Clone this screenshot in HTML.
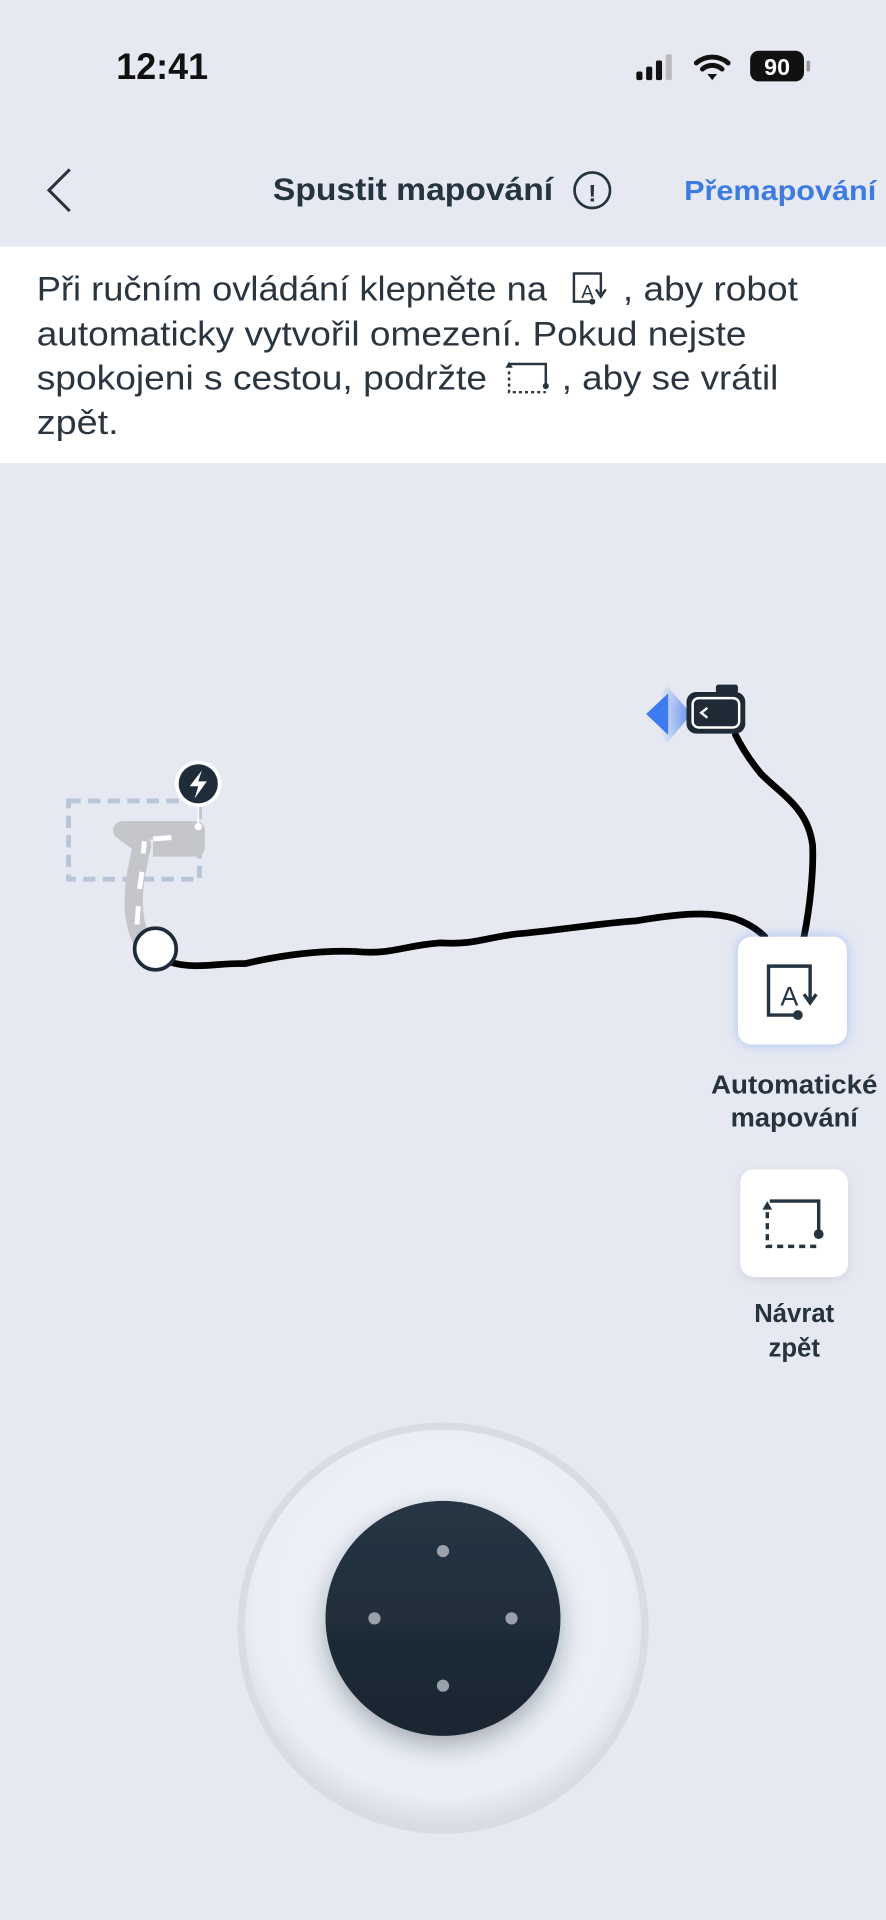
<!DOCTYPE html>
<html><head><meta charset="utf-8"><style>
html,body{margin:0;padding:0;background:#e6e9f1;}
svg{display:block}
text{font-family:"Liberation Sans",sans-serif}
</style></head><body>
<svg width="886" height="1920" viewBox="0 0 724 1568" xmlns="http://www.w3.org/2000/svg">
<defs>
<radialGradient id="joy" cx="50%" cy="45%" r="55%"><stop offset="0" stop-color="#f3f5fa"/><stop offset="0.85" stop-color="#eaeef5"/><stop offset="1" stop-color="#d6dbe4"/></radialGradient>
<linearGradient id="knob" x1="0" y1="0" x2="0" y2="1"><stop offset="0" stop-color="#263644"/><stop offset="1" stop-color="#1a2530"/></linearGradient>
<radialGradient id="wedge" cx="100%" cy="50%" r="100%"><stop offset="0" stop-color="#3f7bf0" stop-opacity="0.8"/><stop offset="1" stop-color="#3f7bf0" stop-opacity="0"/></radialGradient>
<filter id="glow" x="-30%" y="-30%" width="160%" height="160%"><feDropShadow dx="0" dy="0" stdDeviation="5" flood-color="#6f9cf5" flood-opacity="0.55"/></filter>
<filter id="sh" x="-30%" y="-30%" width="160%" height="160%"><feDropShadow dx="0" dy="2" stdDeviation="4" flood-color="#8a94a8" flood-opacity="0.25"/></filter>
<filter id="ksh" x="-30%" y="-30%" width="160%" height="160%"><feDropShadow dx="0" dy="8" stdDeviation="10" flood-color="#1a2530" flood-opacity="0.35"/></filter>
</defs>
<rect width="724" height="1568" fill="#e6e9f1"/>
<text x="95" y="64" font-size="30" font-weight="bold" fill="#111" textLength="75" lengthAdjust="spacingAndGlyphs">12:41</text>
<rect x="520" y="58" width="5" height="7" rx="1.5" fill="#111"/>
<rect x="528" y="54" width="5" height="11" rx="1.5" fill="#111"/>
<rect x="536" y="49" width="5" height="16" rx="1.5" fill="#111"/>
<rect x="544" y="44" width="5" height="21" rx="1.5" fill="#bbb"/>
<g fill="none" stroke="#111" stroke-width="4" stroke-linecap="round">
<path d="M569 51 A20 20 0 0 1 595 51"/><path d="M574 56 A12 12 0 0 1 590 56"/></g>
<path d="M578 60 L586 60 L582 65 Z" fill="#111"/>
<rect x="613" y="41" width="44" height="25" rx="7" fill="#111"/>
<rect x="659" y="49" width="3" height="9" rx="1.5" fill="#999"/>
<text x="635" y="61" font-size="19" font-weight="bold" fill="#fff" text-anchor="middle">90</text>
<polyline points="57,138 40,155 57,172" fill="none" stroke="#2a3440" stroke-width="2.5"/>
<text x="223" y="163" font-size="26" font-weight="bold" fill="#253441" textLength="229" lengthAdjust="spacingAndGlyphs">Spustit mapování</text>
<circle cx="484" cy="155" r="14.5" fill="none" stroke="#253441" stroke-width="2.2"/>
<text x="484" y="164" font-size="20" font-weight="bold" fill="#253441" text-anchor="middle">!</text>
<text x="559" y="163" font-size="23" font-weight="bold" fill="#3d7be0" textLength="157" lengthAdjust="spacingAndGlyphs">Přemapování</text>
<rect x="0" y="201" width="724" height="177" fill="#fff"/>
<g font-size="28" fill="#2b3540">
<text x="30" y="245" textLength="417" lengthAdjust="spacingAndGlyphs">Při ručním ovládání klepněte na</text>
<text x="509" y="245" textLength="143" lengthAdjust="spacingAndGlyphs">, aby robot</text>
<text x="30" y="282" textLength="580" lengthAdjust="spacingAndGlyphs">automaticky vytvořil omezení. Pokud nejste</text>
<text x="30" y="318" textLength="368" lengthAdjust="spacingAndGlyphs">spokojeni s cestou, podržte</text>
<text x="459" y="318" textLength="177" lengthAdjust="spacingAndGlyphs">, aby se vrátil</text>
<text x="30" y="354" textLength="67" lengthAdjust="spacingAndGlyphs">zpět.</text>
</g>
<g fill="none" stroke="#2b3540" stroke-width="2">
<path d="M484 246 H469 V223 H491 V240"/><path d="M487 236 L491 242 L495 236"/>
<path d="M416 297 H446 V313"/><path d="M416 303 V320 H446" stroke-dasharray="2.5 2.5"/></g>
<circle cx="484" cy="246" r="2.5" fill="#2b3540"/><circle cx="446" cy="315" r="2.5" fill="#2b3540"/>
<path d="M413 300 L416 295 L419 300Z" fill="#2b3540"/>
<text x="480" y="243" font-size="15" fill="#2b3540" text-anchor="middle">A</text>
<rect x="56" y="654" width="107" height="64" fill="none" stroke="#b9c5d8" stroke-width="4" stroke-dasharray="10 6"/>
<path d="M118 772 C108 755 108 735 111 715 L116 690 L100 678 L160 678 L160 692 L125 692" fill="none" stroke="#c4c6ca" stroke-width="15" stroke-linejoin="round"/>
<g stroke="#fff" stroke-width="4"><line x1="112" y1="755" x2="113" y2="740"/><line x1="114" y1="726" x2="116" y2="712"/><line x1="117" y1="697" x2="118" y2="687"/><line x1="125" y1="685" x2="140" y2="684"/></g>
<path d="M140 786 C160 792 180 786 200 787 C230 780 260 776 290 777 C320 780 330 772 360 770 C390 772 400 764 430 762 C470 758 490 754 520 752 C555 746 580 744 600 750 C612 754 620 760 625 765" fill="none" stroke="#000" stroke-width="5.5" stroke-linecap="round"/>
<path d="M657 765 C662 740 665 710 664 690 C660 660 640 650 622 632 C612 620 606 610 601 600" fill="none" stroke="#000" stroke-width="5.5" stroke-linecap="round"/>
<circle cx="127" cy="775" r="17" fill="#fff" stroke="#1e2b38" stroke-width="3"/>
<line x1="162" y1="655" x2="162" y2="675" stroke="#fff" stroke-width="1.5"/>
<circle cx="162" cy="675" r="3" fill="#fff"/>
<circle cx="162" cy="640" r="19" fill="#fff"/>
<circle cx="162" cy="640" r="16" fill="#1f2d3a"/>
<path d="M165 629 L155 642 L162 642 L159 652 L169 638 L162 638 Z" fill="#fff"/>
<path d="M545 560 A40 40 0 0 0 545 607 L565 583 Z" fill="url(#wedge)"/>
<path d="M528 583 L546 566 L546 600 Z" fill="#3f7bf0"/>
<rect x="585" y="559" width="18" height="7" rx="2" fill="#1f2a36"/>
<rect x="561" y="565" width="48" height="34" rx="8" fill="#1f2a36"/>
<rect x="566" y="570" width="38" height="24" rx="5" fill="none" stroke="#fff" stroke-width="2"/>
<polyline points="578,578 573,582 578,586" fill="none" stroke="#fff" stroke-width="2"/>
<rect x="603" y="765" width="89" height="88" rx="11" fill="#fff" filter="url(#glow)"/>
<g fill="none" stroke="#253441" stroke-width="2.8"><path d="M651 829 H628 V789 H662 V818"/><path d="M657 812 L662 819 L667 812"/></g>
<circle cx="652" cy="829" r="4" fill="#253441"/>
<text x="645" y="821" font-size="22" fill="#253441" text-anchor="middle">A</text>
<text x="649" y="893" font-size="21" font-weight="bold" fill="#26323e" text-anchor="middle" textLength="136" lengthAdjust="spacingAndGlyphs">Automatické</text>
<text x="649" y="920" font-size="21" font-weight="bold" fill="#26323e" text-anchor="middle" textLength="104" lengthAdjust="spacingAndGlyphs">mapování</text>
<rect x="605" y="955" width="88" height="88" rx="11" fill="#fff" filter="url(#sh)"/>
<g fill="none" stroke="#253441" stroke-width="2.8"><path d="M629 981 H669 V1007"/><path d="M627 990 V1018 H667" stroke-dasharray="5 4"/></g>
<circle cx="669" cy="1008" r="4" fill="#253441"/>
<path d="M623 988 L627 981 L631 988Z" fill="#253441"/>
<text x="649" y="1080" font-size="21" font-weight="bold" fill="#26323e" text-anchor="middle">Návrat</text>
<text x="649" y="1108" font-size="21" font-weight="bold" fill="#26323e" text-anchor="middle">zpět</text>
<circle cx="362" cy="1330" r="165" fill="url(#joy)" stroke="#d8dce5" stroke-width="6"/>
<circle cx="362" cy="1322" r="96" fill="url(#knob)" filter="url(#ksh)"/>
<g fill="#9aa1aa"><circle cx="362" cy="1267" r="5"/><circle cx="306" cy="1322" r="5"/><circle cx="418" cy="1322" r="5"/><circle cx="362" cy="1377" r="5"/></g>
</svg>
</body></html>
